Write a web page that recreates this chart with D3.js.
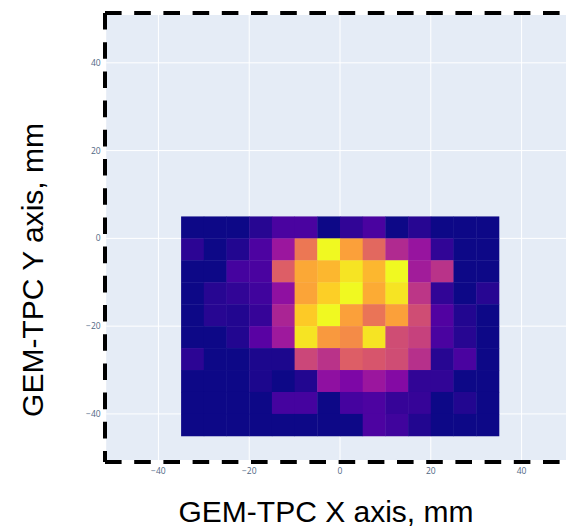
<!DOCTYPE html>
<html>
<head>
<meta charset="utf-8">
<script src="https://cdn.jsdelivr.net/npm/d3@7"></script>
<style>
  html, body { margin: 0; padding: 0; background: #ffffff; }
  svg { display: block; }
</style>
</head>
<body>
<svg id="chart" width="566" height="531"></svg>
<script>
// Bin centres (mm) of the 5 mm x 5 mm readout pads
const xCenters = [-32.5, -27.5, -22.5, -17.5, -12.5, -7.5, -2.5, 2.5, 7.5, 12.5, 17.5, 22.5, 27.5, 32.5];
const yCenters = [2.5, -2.5, -7.5, -12.5, -17.5, -22.5, -27.5, -32.5, -37.5, -42.5];
const binSize = 5;

// Relative hit intensity per pad, one row per y bin (top to bottom)
const row0 = [0, 0, 0, 5, 12, 12, 0, 7, 12, 0, 5, 0, 0, 0];
const row1 = [6, 0, 4, 13, 33, 66, 100, 78, 61, 40, 32, 7, 0, 0];
const row2 = [0, 0, 11, 12, 58, 80, 84, 95, 84, 100, 35, 43, 0, 0];
const row3 = [0, 5, 7, 10, 30, 79, 90, 100, 81, 95, 44, 7, 0, 5];
const row4 = [0, 5, 4, 8, 38, 89, 100, 78, 65, 78, 52, 14, 4, 0];
const row5 = [0, 0, 4, 16, 34, 95, 76, 72, 95, 52, 48, 12, 5, 0];
const row6 = [6, 0, 0, 3, 3, 50, 43, 58, 55, 52, 42, 5, 12, 0];
const row7 = [0, 0, 0, 3, 0, 4, 30, 25, 33, 27, 7, 7, 0, 0];
const row8 = [0, 0, 0, 0, 11, 11, 0, 11, 13, 8, 8, 0, 4, 0];
const row9 = [0, 0, 0, 0, 0, 0, 0, 0, 13, 10, 4, 0, 0, 0];
const intensity = [row0, row1, row2, row3, row4, row5, row6, row7, row8, row9];

// Axis ticks
const xTicks = [-40, -20, 0, 20, 40];
const yTicks = [-40, -20, 0, 20, 40];

// Plasma colour stops
const plasmaStops = ["#0d0887", "#46039f", "#7201a8", "#9c179e", "#bd3786",
                     "#d8576b", "#ed7953", "#fb9f3a", "#fdca26", "#f0f921"];

const svg = d3.select("#chart");

const plot = { left: 106.2, top: 15, width: 467.6, height: 445 };

const x = d3.scaleLinear().domain([-51.5, 51.5]).range([plot.left, plot.left + plot.width]);
const y = d3.scaleLinear().domain([-50.5, 50.9]).range([plot.top + plot.height, plot.top]);

const zMax = d3.max(intensity.flat());
const color = d3.scaleLinear()
  .domain(plasmaStops.map((_, i) => i / (plasmaStops.length - 1) * zMax))
  .range(plasmaStops)
  .interpolate(d3.interpolateRgb)
  .clamp(true);

// Plot background
svg.append("rect")
  .attr("x", plot.left).attr("y", plot.top)
  .attr("width", plot.width).attr("height", plot.height)
  .attr("fill", "#E5ECF6");

// Grid lines
const grid = svg.append("g").attr("stroke", "#ffffff").attr("stroke-width", 1);
grid.selectAll(".gx").data(xTicks).join("line")
  .attr("x1", d => x(d)).attr("x2", d => x(d))
  .attr("y1", plot.top).attr("y2", plot.top + plot.height);
grid.selectAll(".gy").data(yTicks).join("line")
  .attr("y1", d => y(d)).attr("y2", d => y(d))
  .attr("x1", plot.left).attr("x2", plot.left + plot.width);

// Heatmap cells
const cells = [];
intensity.forEach((row, j) => row.forEach((v, i) => {
  cells.push({ cx: xCenters[i], cy: yCenters[j], v });
}));
svg.append("g").selectAll("rect").data(cells).join("rect")
  .attr("x", d => x(d.cx - binSize / 2))
  .attr("y", d => y(d.cy + binSize / 2))
  .attr("width", d => x(d.cx + binSize / 2) - x(d.cx - binSize / 2) + 0.4)
  .attr("height", d => y(d.cy - binSize / 2) - y(d.cy + binSize / 2) + 0.4)
  .attr("fill", d => color(d.v));

// Tick labels
const fmt = d => (d < 0 ? "\u2212" + Math.abs(d) : String(d));
const tickFont = { family: "'Open Sans', sans-serif", size: 8.5, color: "#506784" };

svg.append("g").selectAll("text").data(xTicks).join("text")
  .attr("x", d => x(d)).attr("y", plot.top + plot.height + 13.5)
  .attr("text-anchor", "middle")
  .attr("font-family", tickFont.family).attr("font-size", tickFont.size)
  .attr("fill", tickFont.color)
  .text(fmt);

svg.append("g").selectAll("text").data(yTicks).join("text")
  .attr("x", plot.left - 5.5).attr("y", d => y(d))
  .attr("dy", "0.35em")
  .attr("text-anchor", "end")
  .attr("font-family", tickFont.family).attr("font-size", tickFont.size)
  .attr("fill", tickFont.color)
  .text(fmt);

// Dashed frame around the plotting area
const frame = {
  l: plot.left - 1.2, r: plot.left + plot.width + 1.2,
  t: plot.top - 2, b: plot.top + plot.height + 2
};
const frameSides = [
  [frame.l, frame.t, frame.r, frame.t],
  [frame.l, frame.t, frame.l, frame.b],
  [frame.l, frame.b, frame.r, frame.b],
  [frame.r, frame.t, frame.r, frame.b]
];
svg.append("g").selectAll("line").data(frameSides).join("line")
  .attr("x1", d => d[0]).attr("y1", d => d[1])
  .attr("x2", d => d[2]).attr("y2", d => d[3])
  .attr("stroke", "#000000")
  .attr("stroke-width", 4)
  .attr("stroke-dasharray", "16.6,12.6")
  .attr("stroke-linecap", "butt");

// Axis titles
const titleFont = "'Liberation Sans', Arial, sans-serif";
svg.append("text")
  .attr("x", 326).attr("y", 522)
  .attr("text-anchor", "middle")
  .attr("font-family", titleFont).attr("font-size", 30)
  .attr("fill", "#000000")
  .text("GEM-TPC X axis, mm");

svg.append("text")
  .attr("transform", "translate(43,270) rotate(-90)")
  .attr("text-anchor", "middle")
  .attr("font-family", titleFont).attr("font-size", 30)
  .attr("fill", "#000000")
  .text("GEM-TPC Y axis, mm");
</script>
</body>
</html>
